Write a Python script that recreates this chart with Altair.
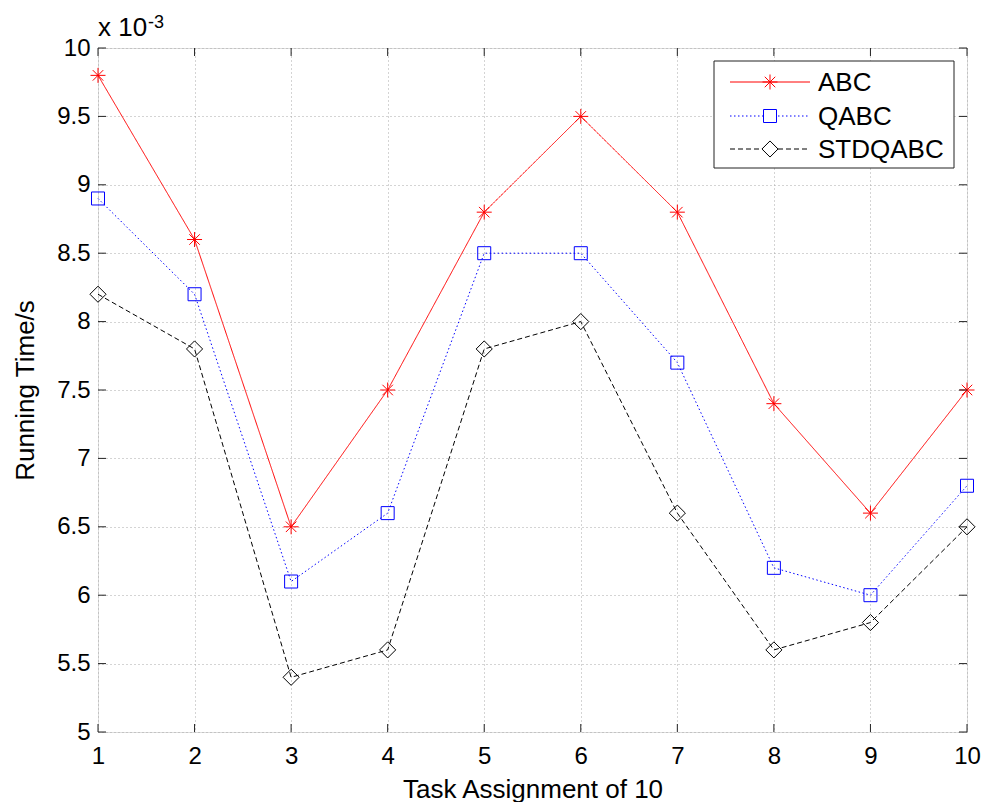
import altair as alt
import pandas as pd

# ---- data (running time in units of 1e-3 s) ----
tasks = list(range(1, 11))
abc = [9.8, 8.6, 6.5, 7.5, 8.8, 9.5, 8.8, 7.4, 6.6, 7.5]
qabc = [8.9, 8.2, 6.1, 6.6, 8.5, 8.5, 7.7, 6.2, 6.0, 6.8]
stdqabc = [8.2, 7.8, 5.4, 5.6, 7.8, 8.0, 6.6, 5.6, 5.8, 6.5]
series_names = ["ABC", "QABC", "STDQABC"]
x_ticks = list(range(1, 11))
y_ticks = [5, 5.5, 6, 6.5, 7, 7.5, 8, 8.5, 9, 9.5, 10]

W, H = 869, 684
FONT = "Liberation Sans"
AX = "#222222"

xscale = alt.Scale(domain=[1, 10], nice=False, zero=False)
yscale = alt.Scale(domain=[5, 10], nice=False, zero=False)
xaxis = alt.Axis(values=x_ticks, title="Task Assignment of 10", grid=True, ticks=False,
                 domain=False, labelFontSize=24, titleFontSize=26, labelPadding=12,
                 titlePadding=8, labelColor="black", titleColor="black",
                 titleFontWeight="normal", gridDash=[1, 3], gridColor="#a8a8a8",
                 labelFlush=False)
yaxis = alt.Axis(values=y_ticks, title="Running Time/s", grid=True, ticks=False,
                 domain=False, labelFontSize=24, titleFontSize=26, labelPadding=8,
                 titlePadding=18, labelColor="black", titleColor="black",
                 titleFontWeight="normal", gridDash=[1, 3], gridColor="#a8a8a8",
                 format=".1~f", labelFlush=False)


def X():
    return alt.X("x:Q", scale=xscale, axis=xaxis)


def Y():
    return alt.Y("y:Q", scale=yscale, axis=yaxis)


asterisk = "M-1,0L1,0M0,-1L0,1M-0.7,-0.7L0.7,0.7M-0.7,0.7L0.7,-0.7"
styles = {
    "ABC": dict(color="#ff0000", dash=[1, 0], shape=asterisk, size=225),
    "QABC": dict(color="#0000ff", dash=[1.5, 2.5], shape="square", size=169),
    "STDQABC": dict(color="#000000", dash=[5, 3], shape="diamond", size=260),
}
values = {"ABC": abc, "QABC": qabc, "STDQABC": stdqabc}

layers = []
for name in series_names:
    df = pd.DataFrame({"x": tasks, "y": values[name]})
    st = styles[name]
    base = alt.Chart(df)
    layers.append(base.mark_line(color=st["color"], strokeWidth=1, strokeDash=st["dash"])
                  .encode(x=X(), y=Y()))
    layers.append(base.mark_point(shape=st["shape"], size=st["size"], filled=False,
                                  color=st["color"], strokeWidth=1, opacity=1)
                  .encode(x=X(), y=Y()))

# inward tick marks on all four sides
xt = alt.Chart(pd.DataFrame({"x": x_ticks}))
yt = alt.Chart(pd.DataFrame({"y": y_ticks}))
layers.append(xt.mark_rule(color=AX, strokeWidth=1)
              .encode(x=X(), y=alt.value(H), y2=alt.value(H - 8)))
layers.append(xt.mark_rule(color=AX, strokeWidth=1)
              .encode(x=X(), y=alt.value(0), y2=alt.value(8)))
layers.append(yt.mark_rule(color=AX, strokeWidth=1)
              .encode(y=Y(), x=alt.value(0), x2=alt.value(8)))
layers.append(yt.mark_rule(color=AX, strokeWidth=1)
              .encode(y=Y(), x=alt.value(W - 8), x2=alt.value(W)))

# exponent annotation
layers.append(alt.Chart(pd.DataFrame({"t": ["x 10"]})).mark_text(
    align="left", baseline="alphabetic", fontSize=26, font=FONT, color="black")
    .encode(x=alt.value(0), y=alt.value(-12), text="t:N"))
layers.append(alt.Chart(pd.DataFrame({"t": ["-3"]})).mark_text(
    align="left", baseline="alphabetic", fontSize=18, font=FONT, color="black")
    .encode(x=alt.value(50), y=alt.value(-20), text="t:N"))

# legend box
one = alt.Chart(pd.DataFrame({"k": [0]}))
layers.append(one.mark_rect(fill="white", stroke=AX, strokeWidth=1)
              .encode(x=alt.value(616), x2=alt.value(856), y=alt.value(13), y2=alt.value(120)))
row_y = [34, 68, 101]
for name, ly in zip(series_names, row_y):
    st = styles[name]
    layers.append(one.mark_rule(color=st["color"], strokeWidth=1, strokeDash=st["dash"])
                  .encode(x=alt.value(632), x2=alt.value(712), y=alt.value(ly)))
    layers.append(one.mark_point(shape=st["shape"], size=st["size"], filled=False,
                                 color=st["color"], strokeWidth=1, opacity=1, fill="white")
                  .encode(x=alt.value(672), y=alt.value(ly)))
    layers.append(alt.Chart(pd.DataFrame({"t": [name]})).mark_text(
        align="left", baseline="middle", fontSize=26, font=FONT, color="black")
        .encode(x=alt.value(720), y=alt.value(ly + 1), text="t:N"))

chart = alt.layer(*layers).properties(
    width=W, height=H,
    autosize=alt.AutoSizeParams(type="none"),
    padding={"left": 90, "top": 40, "right": 20, "bottom": 70},
    background="white",
).configure_view(stroke=AX, strokeWidth=1).configure(font=FONT)

chart.save("out.html", embed_options={"renderer": "svg", "actions": False})
